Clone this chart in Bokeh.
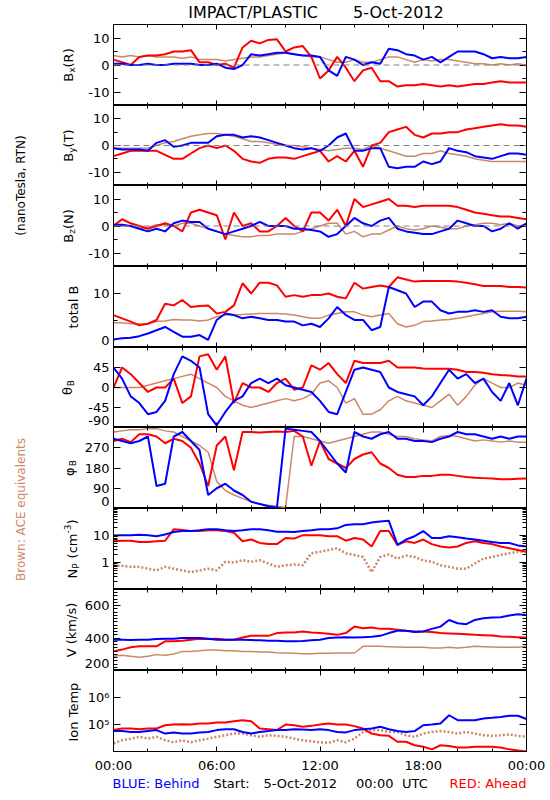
import math
from bokeh.plotting import figure
from bokeh.layouts import row, column
from bokeh.models import Range1d, LinearAxis, LogAxis, FixedTicker, Span
from bokeh.embed import file_html
from bokeh.resources import INLINE
from bokeh.core.properties import value

# ---------------- data (hours since 5-Oct-2012 00:00 UTC) ----------------
HOURS = [0.0, 0.5, 1.0, 1.5, 2.0, 2.5, 3.0, 3.5, 4.0, 4.5, 5.0, 5.5, 6.0, 6.5, 7.0, 7.5,
         8.0, 8.5, 9.0, 9.5, 10.0, 10.5, 11.0, 11.5, 12.0, 12.5, 13.0, 13.5, 14.0, 14.5,
         15.0, 15.5, 16.0, 16.5, 17.0, 17.5, 18.0, 18.5, 19.0, 19.5, 20.0, 20.5, 21.0,
         21.5, 22.0, 22.5, 23.0, 23.5, 24.0]

BX_RED = [2, 1, 0, 3, 3.5, 3.5, 4, 5, 5, 5.5, 1, 1, 0, 0.5, -1, 6.5, 9, 8, 9.3, 9.5, 5, 6.5, 7, 3,
          -5, -2, 3, -1, -6, -2, -1, -6, -6, -8, -7.5, -7.5, -7, -7.5, -8, -7.5, -8, -7.5, -7, -7,
          -6.5, -6, -6.5, -6.5, -6.5]
BX_BLUE = [0.5, 0.5, 0, 0, 0.5, 0, 0, 0.5, 0.5, 0.5, 0, 0, 0.5, -1, -1.5, 0, 4, 3.5, 4, 4.5, 4.5, 4,
           3.5, 3.5, 3, -2, -4, 3, 2, 0, 1, 0.5, 6, 5.5, 4, 3.5, 2, 3, 1, 3, 5, 5, 5, 4, 2.5, 3, 2.5,
           2.5, 3]
BX_BROWN = [3.5, 3, 3.5, 3, 3.5, 3, 3, 3, 2.5, 3, 2, 2, 2, 1.5, 2, 2.5, 3, 3, 3.5, 4, 4.5, 4, 3.5, 3,
            3, 2, 1, 1, 2, 1, 1, 2, 3, 3, 2, 1, 2, 1.5, 2, 2, 1.5, 1, 0.5, 0.5, 0, 0.5, 0, 0.5, 0]

BY_RED = [-4, -3, -2, -2, -2, -2, -3.5, -5, -5, -3, -1, 0, -1, 0, -2, -5, -6, -6.5, -5, -4.5, -4.5,
          -5, -4, -3, -2, -6, -4, -6, -2, -8, 0, 1, 5, 6, 7, 4, 3, 4.5, 4.5, 5, 5, 6, 6.5, 7, 7.5, 8,
          7.5, 7.5, 7]
BY_BLUE = [-1, -1.5, -1.5, -1.5, -2, 1, 2, -0.5, 0, 1, 1, 1, 3.5, 4, 4, 3, 3.5, 3, 2, 1, 0, -1, -1.5,
           -1, -2, 0, 3, 4.5, -2, -2, -1, -1, -8, -8.5, -8, -8, -6, -7, -6, -1, -2, -2.5, -4, -4.5,
           -5, -4, -3, -3, -3.5]
BY_BROWN = [-1, -1, -1, -1, -1, 0, 1, 1.5, 2.5, 3.5, 4, 4.5, 4.5, 4, 3.5, 2.5, 1.5, 1.5, 1, 0.5, 0, 0,
            -0.5, -1, -1.5, -2, -1.5, -1, -1, -1.5, 0, -1, -2, -3, -4, -4, -3, -3, -2, -3, -3.5, -4,
            -5, -5.5, -6, -6, -6, -6, -6]

BZ_RED = [0, 2.5, 1, 0, -1, 0, 1, 0, -2, 5, 6, 5, 4, -5, 5, 0, 1, -2, -2, 0, 3, 0, -2, 5, 5, 2, 6, 0,
          10, 7, 8, 9, 10, 7.5, 7.5, 7, 7.5, 7.5, 7.5, 7.5, 7, 6, 5, 4.5, 4, 3.5, 3.5, 3, 2.5]
BZ_BLUE = [0.5, 0.5, 0, -1, -2, -1, -2, 1, 2, 1.5, 1.5, -1, -2, -3, -2, -1, 0, 1.5, 0, 0, 0, -1, -1,
           -1.5, -2, -4, -3, 0, 3, 1, 0, 2, 3, -1, -2, -2.5, -3, -3, -2, -1, 2, 1, 0, 0, -2, -1, 1,
           -1, 1]
BZ_BROWN = [0, 0, 0, -1, -0.5, 0.5, 0.5, 0, 1, 1, 0, -1, -2, -3, -3.5, -4, -4, -3.5, -3.5, -3, -3, -3,
            -2, -1, 0, 1, 1, -3, -2, -4, -3, -3, -1.5, 0, -1, -1.5, -1, 0, -0.5, -1, -1, 0, 0.5, 1,
            1, 0.5, 1, 0, 0.5]

BT_RED = [6.0, 5.4, 4.8, 4.1, 4.4, 5.1, 8.1, 7.8, 8.8, 7.5, 7.7, 7.8, 6.3, 6.6, 7.8, 11.9, 10.0, 12.0,
          12.0, 11.5, 9.4, 9.7, 9.4, 9.7, 9.7, 10.0, 9.4, 9.1, 12.0, 10.9, 11.2, 11.5, 11.2, 13.0,
          12.6, 12.2, 12.3, 12.3, 12.3, 12.3, 12.2, 12.0, 11.7, 11.4, 11.4, 11.4, 11.2, 11.2, 11.1]
BT_BLUE = [1.5, 1.7, 1.8, 2.1, 2.6, 3.2, 3.8, 2.9, 2.0, 2.0, 2.3, 1.4, 5.1, 6.3, 6.0, 5.4, 5.7, 5.4,
           5.1, 5.1, 4.8, 4.8, 4.1, 4.4, 3.8, 5.4, 7.5, 6.0, 5.1, 5.1, 3.2, 3.8, 11.2, 10.6, 10.0,
           7.5, 8.5, 8.5, 6.9, 6.3, 6.6, 6.6, 6.9, 6.6, 6.9, 5.7, 5.4, 5.4, 5.7]
BT_BROWN = [4.6, 4.6, 4.4, 4.4, 4.4, 4.8, 4.9, 5.2, 5.1, 5.1, 4.9, 5.1, 5.7, 6.0, 6.0, 6.1, 6.2, 6.3,
            6.3, 6.3, 6.2, 6.0, 5.7, 5.4, 5.4, 6.0, 6.3, 6.6, 6.6, 6.0, 5.7, 6.0, 6.3, 4.4, 3.8, 4.1,
            4.8, 4.9, 5.1, 5.2, 5.4, 5.7, 6.0, 6.3, 6.6, 6.7, 6.7, 6.7, 6.6]

TH_RED = [0, 45, 30, 10, -10, 0, 0, 20, -35, -20, 70, 75, 40, 70, -35, 10, 0, 0, -10, 10, 20, -5, 0,
          50, 40, 55, 30, 10, 60, 55, 55, 55, 60, 45, 45, 45, 43, 42, 42, 42, 40, 35, 35, 33, 30,
          28, 27, 25, 25]
TH_BLUE = [45, 20, -20, -35, -60, -55, -30, 30, 70, 60, 45, -60, -85, -55, -30, -20, 10, 20, 10, 20, 5,
           0, -5, -10, -30, -55, -60, -10, 40, 45, 40, 35, 0, -10, -15, -20, -40, -20, 10, 40, 20,
           30, 10, 20, -10, -30, 10, -40, 20]
TH_BROWN = [0, 0, 0, 0, 5, 10, 15, 20, 25, 30, 20, 10, 0, -20, -30, -40, -45, -40, -35, -30, -25, -30,
            -25, -15, 10, 15, 0, -35, -25, -60, -60, -50, -30, -20, -30, -35, -40, -45, -30, -15,
            -40, -20, 5, 20, 10, 0, 0, 10, 5]

PH_RED = [300, 310, 295, 330, 330, 320, 290, 310, 300, 270, 200, 100, 280, 320, 170, 340, 340, 338,
          340, 342, 340, 345, 320, 190, 300, 220, 200, 180, 220, 240, 250, 200, 180, 150, 140, 140,
          145, 145, 150, 150, 145, 140, 137, 135, 133, 130, 130, 132, 133]
PH_BLUE = [310, 300, 290, 300, 320, 100, 110, 320, 340, 300, 260, 60, 90, 110, 80, 60, 30, 20, 10, 5,
           355, 350, 345, 340, 300, 250, 200, 160, 340, 320, 310, 330, 340, 310, 310, 300, 300, 295,
           310, 320, 340, 330, 330, 320, 310, 320, 310, 320, 320]
PH_BROWN = [340, 345, 350, 350, 355, 355, 345, 340, 320, 300, 280, 250, 120, 80, 60, 45, 30, 20, 15,
            10, 5, 320, 320, 310, 300, 290, 300, 310, 320, 330, 340, 340, 330, 320, 320, 310, 305,
            300, 320, 325, 320, 310, 300, 305, 300, 295, 300, 295, 295]

NP_RED = [6.1, 6.4, 6.4, 5.7, 5.7, 6.1, 6.4, 16.9, 15.9, 14.6, 14.6, 15.5, 15.5, 14.6, 12.6, 6.1, 7.1,
          5.3, 4.8, 4.8, 8.1, 7.7, 10.3, 10.3, 10.3, 9.4, 9.4, 6.4, 8.1, 7.1, 3.9, 14.6, 14.6, 4.5,
          6.1, 5.3, 7.1, 4.8, 3.9, 3.6, 3.9, 5.3, 6.1, 5.3, 4.8, 3.9, 3.4, 2.9, 2.5]
NP_BLUE = [10.0, 10.3, 10.3, 10.6, 10.3, 9.4, 10.9, 13.4, 14.6, 14.6, 15.5, 16.9, 16.9, 15.5, 14.6,
           15.5, 16.9, 16.9, 15.5, 13.8, 13.8, 13.4, 14.6, 15.5, 16.9, 16.9, 18.4, 24.6, 26.1, 26.1,
           30.2, 32.9, 35.0, 4.5, 7.1, 9.4, 14.6, 8.1, 8.1, 9.4, 8.6, 7.7, 7.1, 6.4, 5.7, 5.3, 5.3,
           4.3, 3.9]
NP_BROWN = [0.79, 0.75, 0.69, 0.69, 0.59, 0.51, 0.69, 0.59, 0.51, 0.44, 0.51, 0.59, 0.51, 1.06, 1.0,
            1.22, 1.06, 1.22, 0.92, 0.69, 0.79, 0.84, 0.79, 2.2, 2.5, 2.9, 3.4, 2.2, 1.9, 1.6, 0.44,
            1.6, 2.0, 1.4, 1.8, 1.6, 1.2, 1.06, 0.79, 0.69, 0.59, 0.59, 0.92, 1.4, 1.6, 1.9, 2.2,
            2.5, 2.5]

V_RED = [318, 329, 343, 349, 349, 349, 380, 380, 384, 390, 396, 394, 396, 390, 390, 404, 414, 414,
         414, 431, 435, 435, 441, 435, 431, 427, 420, 431, 471, 461, 465, 457, 457, 451, 445, 441,
         441, 437, 431, 429, 427, 424, 420, 418, 416, 410, 408, 406, 404]
V_BLUE = [390, 390, 388, 390, 390, 394, 396, 396, 400, 400, 400, 396, 390, 390, 390, 390, 388, 386,
          384, 384, 380, 380, 382, 386, 390, 400, 404, 406, 404, 406, 408, 414, 431, 445, 445, 437,
          441, 457, 471, 512, 492, 486, 512, 522, 527, 529, 539, 547, 543]
V_BROWN = [288, 294, 288, 282, 288, 298, 294, 302, 318, 318, 322, 327, 327, 322, 322, 318, 318, 314,
           314, 310, 308, 306, 304, 304, 306, 306, 308, 308, 308, 349, 349, 349, 347, 345, 343, 343,
           343, 339, 339, 343, 339, 343, 349, 347, 345, 343, 343, 343, 349]

T_RED = [6.2e4, 7.1e4, 7.1e4, 6.7e4, 7.1e4, 7.1e4, 9.4e4, 1.0e5, 1.03e5, 1.0e5, 1.09e5, 1.09e5,
         1.19e5, 1.19e5, 1.33e5, 1.45e5, 1.33e5, 7.1e4, 6.7e4, 6.2e4, 1.0e5, 9.4e4, 8.2e4, 8.9e4,
         1.0e5, 1.09e5, 1.0e5, 1.0e5, 8.7e4, 7.1e4, 4.6e4, 4.0e4, 3.8e4, 2.3e4, 2.3e4, 1.7e4, 1.5e4,
         1.2e4, 1.7e4, 1.6e4, 1.4e4, 1.4e4, 1.5e4, 1.5e4, 1.5e4, 1.4e4, 1.2e4, 1.1e4, 1.0e4]
T_BLUE = [5.7e4, 5.7e4, 5.3e4, 5.3e4, 5.8e4, 6.2e4, 4.6e4, 5.1e4, 4.6e4, 4.6e4, 5.1e4, 5.3e4, 6.2e4,
          6.7e4, 6.7e4, 5.3e4, 4.6e4, 5.3e4, 5.7e4, 6.2e4, 6.2e4, 6.7e4, 6.5e4, 6.2e4, 6.7e4, 6.2e4,
          5.3e4, 5.1e4, 6.2e4, 6.7e4, 7.1e4, 8.2e4, 6.7e4, 5.7e4, 5.3e4, 5.7e4, 9.4e4, 1.0e5, 1.09e5,
          2.2e5, 1.45e5, 1.45e5, 1.45e5, 1.67e5, 1.77e5, 1.9e5, 2.1e5, 2.1e5, 1.6e5]
T_BROWN = [2.0e4, 2.6e4, 3.0e4, 3.5e4, 3.0e4, 3.5e4, 2.6e4, 2.2e4, 2.6e4, 2.2e4, 2.6e4, 3.0e4, 3.5e4,
           4.0e4, 4.6e4, 4.6e4, 4.0e4, 3.5e4, 4.0e4, 3.8e4, 3.5e4, 3.0e4, 2.6e4, 2.4e4, 2.2e4, 2.1e4,
           2.6e4, 2.2e4, 3.0e4, 5.3e4, 6.2e4, 6.2e4, 5.3e4, 5.3e4, 4.0e4, 3.5e4, 4.6e4, 5.3e4, 5.7e4,
           5.3e4, 4.6e4, 5.3e4, 4.6e4, 4.0e4, 3.8e4, 4.0e4, 4.3e4, 3.8e4, 3.5e4]

X_TICKS = [0, 6, 12, 18, 24]
X_MINOR = [2, 4, 8, 10, 14, 16, 20, 22]
X_LABELS = ["00:00", "06:00", "12:00", "18:00", "00:00"]

# ---------------- style / layout constants (page has no margin) ----------------
RED, BLUE, BROWN = "#ff0000", "#0000ff", "#cc8866"
FONT = "DejaVu Sans"
PAGE_W = 550
LEFT_W = 81            # strip holding the rotated captions and panel labels
BORDER_L = 30          # tick labels only
FRAME_W = 415
BORDER_R = PAGE_W - LEFT_W - BORDER_L - FRAME_W   # 24
PANEL_W = BORDER_L + FRAME_W + BORDER_R
TOP_H = 23             # title strip; first panel gets 1px top border -> frames start at y=24
FRAME_H = [81, 80, 81, 81, 80, 81, 81, 81, 81]
BOTTOM_PAD = 24        # x tick labels of last panel
FOOT_H = 20
MID_TOP = TOP_H
MID_H = 1 + sum(FRAME_H) + BOTTOM_PAD
MID_BOTTOM = MID_TOP + MID_H

CHAR_W = {'B': .686, 'x': .592, 'y': .592, 'z': .525, '(': .390, ')': .390, 'R': .695, 'T': .611,
          'N': .748, 't': .392, 'o': .612, 'a': .613, 'l': .278, ' ': .318, 'θ': .602, 'φ': .660,
          'P': .603, 'c': .550, 'm': .974, '−': .838, '-': .361, '3': .636, 'V': .684, 'k': .579,
          '/': .337, 's': .521, 'I': .295, 'n': .634, 'e': .615, 'p': .635}


def text_width(s, size):
    return sum(CHAR_W.get(c, 0.6) for c in s) * size


def make_axis(log, ticks, minor, labels, tick_len, minor_len, show, standoff=4):
    cls = LogAxis if log else LinearAxis
    ax = cls(ticker=FixedTicker(ticks=ticks, minor_ticks=minor))
    ax.axis_line_color = "black"
    ax.axis_line_width = 1
    ax.major_tick_in = tick_len
    ax.major_tick_out = 0
    ax.minor_tick_in = minor_len
    ax.minor_tick_out = 0
    ax.major_tick_line_color = "black"
    ax.minor_tick_line_color = "black"
    ax.major_label_text_font = FONT
    ax.major_label_text_color = "black"
    if show:
        ax.major_label_overrides = dict(zip(ticks, labels))
        ax.major_label_text_font_size = "13px"
        ax.major_label_standoff = standoff
    else:
        ax.major_label_overrides = {t: "" for t in ticks}
        ax.major_label_text_font_size = "0px"
        ax.major_label_standoff = 0
    return ax


# label_at: where each tick label sits (labels on the bottom edge are lifted inside the panel)
PANELS = [
    dict(red=BX_RED, blue=BX_BLUE, brown=BX_BROWN, yr=(-15, 15), log=False, ticks=[-10, 0, 10],
         label_at=[-10, 0, 10], minor=[-5, 5], labels=["-10", "0", "10"], zero=True,
         dotted=False, lx=63, ylabel=[("B", 13, 0, 0), ("x", 9, -4, 0), ("(R)", 13, 0, 0)]),
    dict(red=BY_RED, blue=BY_BLUE, brown=BY_BROWN, yr=(-15, 15), log=False, ticks=[-10, 0, 10],
         label_at=[-10, 0, 10], minor=[-5, 5], labels=["-10", "0", "10"], zero=True,
         dotted=False, lx=63, ylabel=[("B", 13, 0, 0), ("y", 9, -4, 0), ("(T)", 13, 0, 0)]),
    dict(red=BZ_RED, blue=BZ_BLUE, brown=BZ_BROWN, yr=(-15, 15), log=False, ticks=[-10, 0, 10],
         label_at=[-10, 0, 10], minor=[-5, 5], labels=["-10", "0", "10"], zero=True,
         dotted=False, lx=63, ylabel=[("B", 13, 0, 0), ("z", 9, -4, 0), ("(N)", 13, 0, 0)]),
    dict(red=BT_RED, blue=BT_BLUE, brown=BT_BROWN, yr=(0, 15), log=False, ticks=[0, 10],
         label_at=[1.3, 10], minor=[5], labels=["0", "10"], zero=False, dotted=False, lx=68,
         ylabel=[("total B", 13, 0, 0)]),
    dict(red=TH_RED, blue=TH_BLUE, brown=TH_BROWN, yr=(-90, 90), log=False,
         ticks=[-90, -45, 0, 45], label_at=[-74, -45, 0, 45], minor=[],
         labels=["-90", "-45", "0", "45"], zero=False, dotted=False, lx=62,
         ylabel=[("θ", 13, 0, 0), ("B", 9, -4, 1)]),
    dict(red=PH_RED, blue=PH_BLUE, brown=PH_BROWN, yr=(0, 360), log=False,
         ticks=[0, 90, 180, 270], label_at=[31, 90, 180, 270], minor=[],
         labels=["0", "90", "180", "270"], zero=False, dotted=False, lx=64,
         ylabel=[("φ", 13, 0, 0), ("B", 9, -4, 1)]),
    dict(red=NP_RED, blue=NP_BLUE, brown=NP_BROWN, yr=(0.1, 100), log=True, ticks=[1, 10],
         label_at=[1, 10],
         minor=[0.2, 0.3, 0.4, 0.5, 0.6, 0.7, 0.8, 0.9, 2, 3, 4, 5, 6, 7, 8, 9,
                20, 30, 40, 50, 60, 70, 80, 90],
         labels=["1", "10"], zero=False, dotted=True, lx=67,
         ylabel=[("N", 13, 0, 0), ("P", 9, -4, 0), ("(cm", 13, 0, 5), ("-3", 9, 5, 0),
                 (")", 13, 0, 0)]),
    dict(red=V_RED, blue=V_BLUE, brown=V_BROWN, yr=(200, 700), log=False, ticks=[200, 400, 600],
         label_at=[243, 400, 600],
         minor=[220, 240, 260, 280, 300, 320, 340, 360, 380, 420, 440, 460, 480, 500, 520, 540,
                560, 580, 620, 640, 660, 680],
         labels=["200", "400", "600"], zero=False, dotted=False, lx=66,
         ylabel=[("V (km/s)", 13, 0, 0)]),
    dict(red=T_RED, blue=T_BLUE, brown=T_BROWN, yr=(1e4, 1e7), log=True, ticks=[1e5, 1e6],
         label_at=[1e5, 1e6], minor=[], labels=["10⁵", "10⁶"], zero=False, dotted=True, lx=68,
         ylabel=[("Ion Temp", 13, 0, 0)]),
]


def strip_fig(w, h):
    f = figure(width=w, height=h, x_range=Range1d(0, w), y_range=Range1d(0, h),
               x_axis_location=None, y_axis_location=None, output_backend="svg",
               toolbar_location=None, min_border=0)
    f.grid.visible = False
    f.outline_line_color = None
    return f


# ---------------- panels ----------------
x_range = Range1d(0, 24)
figs = []
n = len(PANELS)
for i, d in enumerate(PANELS):
    fh = FRAME_H[i]
    top = 1 if i == 0 else 0
    bot = BOTTOM_PAD if i == n - 1 else 0
    p = figure(width=PANEL_W, height=fh + top + bot, x_range=x_range,
               y_range=Range1d(*d["yr"]), y_axis_type="log" if d["log"] else "linear",
               x_axis_location=None, y_axis_location=None,
               output_backend="svg", toolbar_location=None,
               min_border_left=BORDER_L, min_border_right=BORDER_R,
               min_border_top=top, min_border_bottom=bot)
    p.grid.visible = False
    p.outline_line_color = "black"
    p.background_fill_color = "white"
    p.border_fill_color = "white"

    p.add_layout(make_axis(False, X_TICKS, X_MINOR, X_LABELS, 5, 3, i == n - 1, 6), "below")
    p.add_layout(make_axis(False, X_TICKS, X_MINOR, X_LABELS, 5, 3, False), "above")
    # inner left axis: tick marks only (zero width)
    p.add_layout(make_axis(d["log"], d["ticks"], d["minor"], d["labels"], 7, 4, False), "left")
    # outer left axis: the tick labels only
    lab_ax = make_axis(d["log"], d["label_at"], [], d["labels"], 0, 0, True)
    lab_ax.axis_line_color = None
    lab_ax.major_tick_line_color = None
    lab_ax.minor_tick_line_color = None
    p.add_layout(lab_ax, "left")
    p.add_layout(make_axis(d["log"], d["ticks"], d["minor"], d["labels"], 7, 4, False), "right")

    if d["zero"]:
        p.add_layout(Span(location=0, dimension="width", line_color="#808080",
                          line_dash="6 4", line_width=1))

    if d["dotted"]:
        p.line(HOURS, d["brown"], line_color=BROWN, line_width=2.5, line_dash="2 2")
    else:
        p.line(HOURS, d["brown"], line_color=BROWN, line_width=1.5)
    p.line(HOURS, d["red"], line_color=RED, line_width=2)
    p.line(HOURS, d["blue"], line_color=BLUE, line_width=2)
    figs.append(p)

# ---------------- left strip: captions and panel labels ----------------
left = strip_fig(LEFT_W, MID_H)


def strip_text(f, x, y, txt, size, color="black", angle=0.0, align="center",
               baseline="middle"):
    f.text(x=[x], y=[y], text=[txt], angle=angle, text_align=align, text_baseline=baseline,
           text_font_size=f"{size}px", text_color=color, text_font=value(FONT))


strip_text(left, 20, MID_BOTTOM - 185, "(nanoTesla, RTN)", 12, angle=math.pi / 2)
strip_text(left, 20, MID_BOTTOM - 509, "Brown: ACE equivalents", 12, color=BROWN,
           angle=math.pi / 2)

y_top = MID_TOP + 1
for i, d in enumerate(PANELS):
    center_page_y = y_top + FRAME_H[i] / 2.0
    y_top += FRAME_H[i]
    parts = d["ylabel"]
    total = sum(text_width(t, s) + g for t, s, sh, g in parts)
    y = (MID_BOTTOM - center_page_y) - total / 2.0
    base_x = d["lx"] + 4.7
    for t, s, sh, g in parts:
        y += g
        strip_text(left, base_x - sh, y, t, s, angle=math.pi / 2, align="left",
                   baseline="alphabetic")
        y += text_width(t, s)

# ---------------- title strip ----------------
top_strip = strip_fig(PAGE_W, TOP_H)
strip_text(top_strip, 252.6, TOP_H - 12.3, "IMPACT/PLASTIC", 16)
strip_text(top_strip, 397.9, TOP_H - 12.3, "5-Oct-2012", 16)

# ---------------- footer strip ----------------
foot = strip_fig(PAGE_W, FOOT_H)
fy = MID_BOTTOM + FOOT_H - 783
for txt, px, al, col in [("BLUE: Behind", 112, "left", BLUE), ("Start:", 213, "left", "black"),
                         ("5-Oct-2012", 263, "left", "black"), ("00:00", 355.5, "left", "black"),
                         ("UTC", 401.5, "left", "black"), ("RED: Ahead", 526, "right", RED)]:
    strip_text(foot, px, fy, txt, 13, color=col, align=al)

layout = column(top_strip, row(left, column(*figs, spacing=0), spacing=0), foot, spacing=0)
open("out.html", "w").write(file_html(layout, INLINE))
